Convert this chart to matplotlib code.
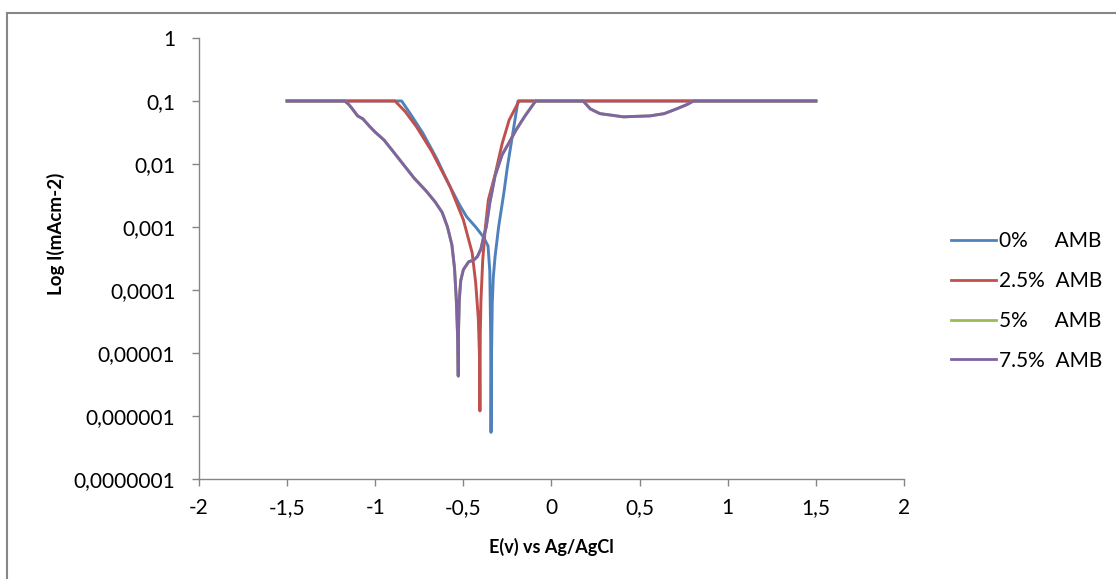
import matplotlib.pyplot as plt
from matplotlib.lines import Line2D
from matplotlib.ticker import FixedLocator

# E (V vs Ag/AgCl) and current (mA/cm2)
e_0 = [-1.5, -0.85, -0.80, -0.73, -0.65, -0.576, -0.52, -0.481, -0.43, -0.387, -0.36,
       -0.35, -0.345, -0.343, -0.340, -0.336, -0.33, -0.32, -0.30, -0.27, -0.25,
       -0.22, -0.19, 1.5]
i_0 = [0.1, 0.1, 0.062, 0.031, 0.012, 0.0044, 0.0022, 0.00145, 0.001, 0.0007,
       0.0005, 0.0002, 2e-5, 5.5e-7, 1e-5, 6e-5, 0.00016, 0.00034, 0.001, 0.0035,
       0.009, 0.03, 0.1, 0.1]

e_25 = [-1.5, -0.888, -0.83, -0.766, -0.68, -0.576, -0.50, -0.45, -0.43, -0.415,
        -0.408, -0.406, -0.404, -0.40, -0.39, -0.375, -0.358, -0.32, -0.28, -0.24,
        -0.184, 1.5]
i_25 = [0.1, 0.1, 0.068, 0.039, 0.016, 0.0044, 0.0013, 0.00039, 0.00013, 3.5e-5,
        8e-6, 1.2e-6, 2e-5, 7e-5, 0.0003, 0.001, 0.0027, 0.0068, 0.021, 0.05, 0.1,
        0.1]

e_5 = [-1.5, -1.172, -1.15, -1.13, -1.10, -1.07, -1.03, -1.0, -0.95, -0.90, -0.84,
       -0.78, -0.71, -0.66, -0.62, -0.59, -0.565, -0.55, -0.54, -0.533, -0.529,
       -0.527, -0.523, -0.515, -0.50, -0.47, -0.44, -0.42, -0.40, -0.385, -0.37,
       -0.35, -0.32, -0.28, -0.24, -0.20, -0.15, -0.09, 0.18, 0.22, 0.275, 0.35,
       0.408, 0.48, 0.559, 0.64, 0.71, 0.77, 0.805, 1.5]
i_5 = [0.1, 0.1, 0.088, 0.075, 0.058, 0.052, 0.039, 0.032, 0.024, 0.016, 0.0098,
       0.006, 0.0037, 0.0025, 0.0017, 0.001, 0.00052, 0.00022, 7e-5, 2e-5, 4.3e-6,
       2.5e-5, 7e-5, 0.00014, 0.00021, 0.00028, 0.0003, 0.00034, 0.00045, 0.0007,
       0.001, 0.0024, 0.0065, 0.014, 0.022, 0.035, 0.058, 0.1, 0.1, 0.075, 0.063,
       0.059, 0.056, 0.057, 0.058, 0.063, 0.075, 0.088, 0.1, 0.1]

# 5% lies under the 7.5% curve in the picture
e_75 = e_5
i_75 = i_5

labels = ['0%     AMB', '2.5%  AMB', '5%     AMB', '7.5%  AMB']
colors = ['#4F81BD', '#C0504D', '#9BBB59', '#8064A2']

y_ticks = [1e-7, 1e-6, 1e-5, 1e-4, 1e-3, 1e-2, 1e-1, 1]
y_labels = ['0,0000001', '0,000001', '0,00001', '0,0001', '0,001', '0,01', '0,1', '1']
x_ticks = [-2, -1.5, -1, -0.5, 0, 0.5, 1, 1.5, 2]
x_labels = ['-2', '-1,5', '-1', '-0,5', '0', '0,5', '1', '1,5', '2']

plt.rcParams['font.family'] = ['Lato', 'DejaVu Sans']

fig = plt.figure(figsize=(11.16, 5.79), dpi=100)
ax = fig.add_axes([0.1783, 0.1727, 0.6317, 0.7617])

series = [(e_0, i_0), (e_25, i_25), (e_5, i_5), (e_75, i_75)]
for k, (e, i) in enumerate(series):
    ax.plot(e, i, color=colors[k], lw=2.1, solid_joinstyle='round')

ax.set_yscale('log')
ax.set_xlim(-2, 2)
ax.set_ylim(1e-7, 1)
ax.yaxis.set_major_locator(FixedLocator(y_ticks))
ax.yaxis.set_minor_locator(FixedLocator([]))
ax.set_yticklabels(y_labels)
ax.set_xticks(x_ticks)
ax.set_xticklabels(x_labels)

for s in ['top', 'right']:
    ax.spines[s].set_visible(False)
for s in ['left', 'bottom']:
    ax.spines[s].set_color('#868686')
    ax.spines[s].set_linewidth(1)
ax.tick_params(axis='both', colors='#868686', length=5, width=1, labelsize=15,
               labelcolor='black')
ax.tick_params(axis='y', pad=12)
ax.tick_params(axis='x', pad=9)

ax.set_ylabel('Log I(mAcm-2)', fontsize=13.5, fontweight='bold')
ax.yaxis.set_label_coords(-0.19, 0.556)
ax.set_xlabel('E(v) vs Ag/AgCl', fontsize=13, fontweight='bold', labelpad=14)

handles = [Line2D([], [], color=c, lw=2) for c in colors]
fig.legend(handles, labels, loc='center left', bbox_to_anchor=(0.835, 0.48),
           frameon=False, fontsize=15, handlelength=2.2, handletextpad=0.1,
           labelspacing=0.95)

# chart border (only top and left are inside the crop)
fig.add_artist(Line2D([7 / 1116, 7 / 1116], [0, 1 - 13 / 579],
                      transform=fig.transFigure, color='#868686', lw=1.5))
fig.add_artist(Line2D([7 / 1116, 1], [1 - 13 / 579, 1 - 13 / 579],
                      transform=fig.transFigure, color='#868686', lw=1.5))

fig.savefig('out.png', dpi=100)
